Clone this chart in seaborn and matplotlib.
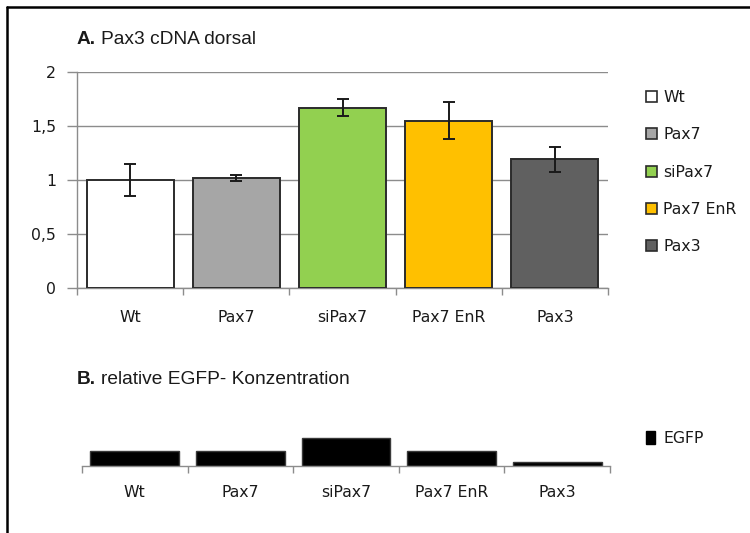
import matplotlib
matplotlib.use("Agg")
import matplotlib.pyplot as plt
import seaborn as sns
import pandas as pd
from matplotlib.patches import Patch
from matplotlib.lines import Line2D

# ---- data ----
categories = ["Wt", "Pax7", "siPax7", "Pax7 EnR", "Pax3"]
pax3_values = [1.00, 1.02, 1.67, 1.55, 1.19]
pax3_errors = [0.15, 0.03, 0.08, 0.17, 0.115]
egfp_values = [1.0, 1.0, 1.9, 1.0, 0.24]
y_ticks = [0, 0.5, 1, 1.5, 2]
y_tick_labels = ["0", "0,5", "1", "1,5", "2"]
bar_colors = ["#FFFFFF", "#A6A6A6", "#92D050", "#FFC000", "#606060"]
title_a = "Pax3 cDNA dorsal"
title_b = "relative EGFP- Konzentration"

sns.set_theme(style="white")
plt.rcParams["font.family"] = ["DejaVu Sans"]

W, H = 750, 533
fig = plt.figure(figsize=(7.5, 5.33), dpi=100)

def fx(px):
    return px / W

def fy(py):
    return 1 - py / H

TXT = "#1a1a1a"
GRID = "#8c8c8c"
FS = 11.3
TFS = 13.8

# ---- top chart ----
ax = fig.add_axes([fx(77), fy(288), fx(608 - 77), (288 - 72) / H])
df = pd.DataFrame({"cat": categories, "val": pax3_values})
sns.barplot(data=df, x="cat", y="val", hue="cat", palette=bar_colors,
            saturation=1, legend=False, width=0.82, edgecolor="#2b2b2b",
            linewidth=1.4, errorbar=None, ax=ax, zorder=3)
ax.errorbar(x=list(range(len(categories))), y=pax3_values, yerr=pax3_errors,
            fmt="none", ecolor="#1a1a1a", elinewidth=1.4, capsize=4.5,
            capthick=1.4, zorder=4)
ax.set_xlim(-0.5, len(categories) - 0.5)
ax.set_ylim(0, 2)
ax.set_yticks(y_ticks)
ax.set_yticklabels(y_tick_labels)
ax.set_xlabel("")
ax.set_ylabel("")
ax.yaxis.grid(True, color=GRID, linewidth=1.0, zorder=0)
ax.set_axisbelow(True)
for s in ["top", "right"]:
    ax.spines[s].set_visible(False)
for s in ["left", "bottom"]:
    ax.spines[s].set_color(GRID)
    ax.spines[s].set_linewidth(1.0)
ax.tick_params(axis="y", which="major", direction="out", length=7, width=1.0,
               color=GRID, labelsize=FS, labelcolor=TXT, pad=8, left=True)
ax.set_xticks([i - 0.5 for i in range(len(categories) + 1)], minor=True)
ax.tick_params(axis="x", which="minor", direction="out", length=5, width=1.0,
               color=GRID, bottom=True)
ax.tick_params(axis="x", which="major", length=0, labelsize=FS,
               labelcolor=TXT, pad=16)

fig.text(fx(77), fy(43.5), "A.", fontsize=TFS, fontweight="bold",
         family="Liberation Sans", color=TXT, va="baseline", ha="left")
fig.text(fx(101), fy(43.5), title_a, fontsize=TFS, family="Liberation Sans",
         color=TXT, va="baseline", ha="left")

handles = [Patch(facecolor=c, edgecolor="#2b2b2b", linewidth=1.2) for c in bar_colors]
fig.legend(handles, categories, loc="upper left",
           bbox_to_anchor=(fx(646), fy(90)), frameon=False,
           fontsize=FS, labelcolor=TXT, handlelength=0.7, handleheight=0.7,
           handletextpad=0.4, labelspacing=1.42, borderpad=0, borderaxespad=0)

# ---- bottom chart ----
ax2 = fig.add_axes([fx(82), fy(466), fx(610 - 82), (466 - 430) / H])
df2 = pd.DataFrame({"cat": categories, "val": egfp_values})
sns.barplot(data=df2, x="cat", y="val", color="#000000", saturation=1,
            width=0.84, edgecolor="#3a3a3a", linewidth=1.0, errorbar=None,
            ax=ax2)
ax2.set_xlim(-0.5, len(categories) - 0.5)
ax2.set_ylim(0, 2.4)
ax2.set_yticks([])
ax2.set_xlabel("")
ax2.set_ylabel("")
for s in ["top", "right", "left"]:
    ax2.spines[s].set_visible(False)
ax2.spines["bottom"].set_color(GRID)
ax2.spines["bottom"].set_linewidth(1.0)
ax2.set_xticks([i - 0.5 for i in range(len(categories) + 1)], minor=True)
ax2.tick_params(axis="x", which="minor", direction="out", length=5, width=1.0,
                color=GRID, bottom=True)
ax2.tick_params(axis="x", which="major", length=0, labelsize=FS,
                labelcolor=TXT, pad=14)

fig.text(fx(77), fy(384.5), "B.", fontsize=TFS, fontweight="bold",
         family="Liberation Sans", color=TXT, va="baseline", ha="left")
fig.text(fx(101), fy(384.5), title_b, fontsize=TFS, family="Liberation Sans",
         color=TXT, va="baseline", ha="left")

fig.legend([Patch(facecolor="#000000", edgecolor="#000000")], ["EGFP"],
           loc="upper left", bbox_to_anchor=(fx(646), fy(431)), frameon=False,
           fontsize=FS, labelcolor=TXT, handlelength=0.6, handleheight=0.9,
           handletextpad=0.5, borderpad=0, borderaxespad=0)

# ---- frame lines (top and left) ----
fig.add_artist(Line2D([fx(7), 1], [fy(7), fy(7)], color="black", linewidth=1.8))
fig.add_artist(Line2D([fx(7), fx(7)], [0, fy(7)], color="black", linewidth=1.8))

fig.savefig("out.png", dpi=100, facecolor="white")
